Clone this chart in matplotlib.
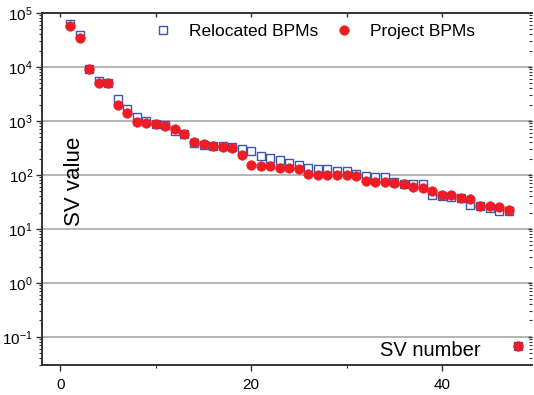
import matplotlib
matplotlib.use("Agg")
import matplotlib.pyplot as plt
from matplotlib.ticker import LogLocator, FixedLocator, NullFormatter, MultipleLocator

plt.rcParams['font.family'] = ['Liberation Sans', 'DejaVu Sans']
plt.rcParams['mathtext.fontset'] = 'custom'
plt.rcParams['mathtext.rm'] = 'Liberation Sans'
plt.rcParams['mathtext.it'] = 'Liberation Sans:italic'

sv_number = list(range(1, 49))
relocated = [62000, 38600, 9000, 5500, 5000, 2500, 1630, 1170, 975, 880, 830, 650,
             560, 385, 360, 340, 336, 326, 299, 279, 228, 207, 190, 169,
             153, 133, 129, 126, 119, 119, 103, 96, 93, 91, 74, 69,
             69, 69, 43, 41.4, 38.5, 37.6, 27.4, 27, 24.8, 21.8, 21.2, 0.068]
project = [58200, 34000, 9040, 5100, 5100, 2000, 1420, 940, 915, 865, 800, 698,
           571, 406, 368, 347, 324, 310, 233, 154, 146, 144, 132, 132,
           127, 102, 101, 101, 101, 101, 95, 77, 75, 73, 72, 67,
           58.8, 56, 50, 42.3, 42, 37.2, 35.7, 26.8, 26.5, 25.4, 22.3, 0.068]
series_labels = ["Relocated BPMs", "Project BPMs"]
x_ticks = [0, 20, 40]

W, H = 534, 395
fig = plt.figure(figsize=(W / 100, H / 100), dpi=100)
L, R, T, B = 42, 532, 13, 365
ax = fig.add_axes([L / W, 1 - B / H, (R - L) / W, (B - T) / H])

blue = '#3b55b3'
red = '#ee1c25'
ax.plot(sv_number, relocated, linestyle='none', marker='s', markersize=5.5,
        markerfacecolor='white', markeredgecolor=blue, markeredgewidth=1.0,
        label=series_labels[0], zorder=3)
ax.plot(sv_number, project, linestyle='none', marker='o', markersize=7.0,
        markerfacecolor=red, markeredgecolor=red, markeredgewidth=0.3,
        label=series_labels[1], zorder=4)

ax.set_yscale('log')
ax.set_xlim(-1.94, 49.45)
ax.set_ylim(0.0299, 1e5)

ax.yaxis.set_major_locator(LogLocator(base=10, numticks=20))
ax.yaxis.set_minor_locator(LogLocator(base=10, subs=range(2, 10), numticks=20))
ax.yaxis.set_minor_formatter(NullFormatter())
ax.xaxis.set_major_locator(FixedLocator(x_ticks))
ax.xaxis.set_minor_locator(FixedLocator([10, 30]))
ax.xaxis.set_minor_formatter(NullFormatter())

ax.grid(True, which='major', axis='y', color='#a0a0a0', linewidth=1.1, zorder=0)
ax.set_axisbelow(True)

for s in ['left', 'bottom', 'top']:
    ax.spines[s].set_linewidth(1.4)
    ax.spines[s].set_color('#333333')
ax.spines['right'].set_visible(False)

ax.tick_params(axis='both', which='major', direction='out', length=4.5, width=1.0,
               labelsize=11, color='#333333', pad=2)
ax.tick_params(axis='both', which='minor', direction='out', length=2.3, width=0.8,
               color='#333333')
ax.tick_params(axis='x', which='major', pad=5)

# top ticks (inward)
axt = ax.twiny()
axt.set_xlim(ax.get_xlim())
axt.xaxis.set_major_locator(MultipleLocator(10))
axt.xaxis.set_major_formatter(NullFormatter())
axt.tick_params(axis='x', which='major', direction='in', length=3, width=1.0,
                labeltop=False, labelbottom=False, color='#333333')
axt.yaxis.set_visible(False)
for s in axt.spines.values():
    s.set_visible(False)

# right ticks (inward)
axr = ax.twinx()
axr.set_yscale('log')
axr.set_ylim(ax.get_ylim())
axr.yaxis.set_major_locator(LogLocator(base=10, numticks=20))
axr.yaxis.set_minor_locator(LogLocator(base=10, subs=range(2, 10), numticks=20))
axr.yaxis.set_major_formatter(NullFormatter())
axr.yaxis.set_minor_formatter(NullFormatter())
axr.tick_params(axis='y', which='major', direction='in', length=3, width=1.0,
                labelright=False, labelleft=False, color='#333333')
axr.tick_params(axis='y', which='minor', direction='in', length=2, width=0.8,
                labelright=False, labelleft=False, color='#333333')
axr.xaxis.set_visible(False)
for s in axr.spines.values():
    s.set_visible(False)

ax.text(74 / W, 1 - 181 / H, 'SV value', transform=fig.transFigure, rotation=90,
        fontsize=16, ha='center', va='center')
ax.text(430 / W, 1 - 351 / H, 'SV number', transform=fig.transFigure, fontsize=14.5,
        ha='center', va='center')

leg = ax.legend(loc='center left', bbox_to_anchor=((154 - L) / (R - L), (B - 31.7) / (B - T)),
                ncol=2, frameon=False, fontsize=12.5, handlelength=1.0,
                handletextpad=1.0, columnspacing=1.0, borderaxespad=0, borderpad=0,
                numpoints=1)

fig.savefig('out.png', dpi=100)
